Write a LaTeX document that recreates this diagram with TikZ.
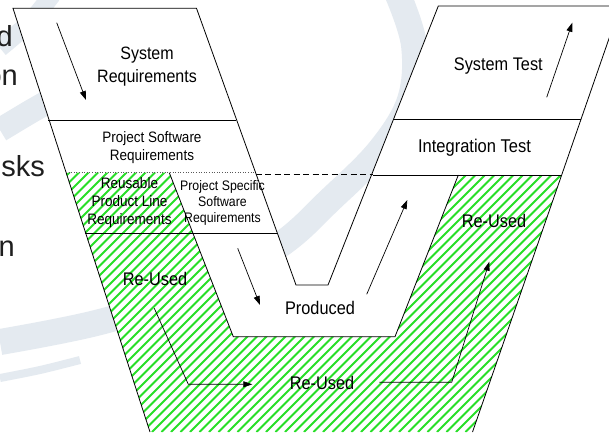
\documentclass[tikz,border=0pt]{standalone}
\usepackage{fontspec}
\setmainfont{Liberation Sans}
\usetikzlibrary{arrows.meta}
\definecolor{swoosh}{RGB}{228,234,240}
\definecolor{hatchgreen}{RGB}{40,222,40}
\definecolor{fragtext}{RGB}{30,30,30}
% labels are set in a slightly tall, narrow cut
\newcommand{\tallstack}[1]{\scalebox{1}[1.12]{\begin{tabular}{@{}c@{}}#1\end{tabular}}}

\begin{document}
\begin{tikzpicture}[x=1pt,y=-1pt,
  edge/.style={line width=0.8pt,black},
  flow/.style={line width=0.7pt,black,-{Triangle[length=9pt,width=6pt]}},
  band/.style={swoosh,line cap=butt},
  lblbig/.style={font=\fontsize{16.3}{20.5}\selectfont,inner sep=0pt},
  lblmid/.style={font=\fontsize{13.5}{16.3}\selectfont,inner sep=0pt},
  lblsmall/.style={font=\fontsize{12.3}{14.5}\selectfont,inner sep=0pt},
  frag/.style={font=\fontsize{29}{32}\selectfont,text=fragtext,inner sep=0pt,anchor=base east}]

\useasboundingbox (0,0) rectangle (609,432);
\clip (0,0) rectangle (609,432);
\fill[white] (0,0) rectangle (609,432);

% watermark swooshes in the background
\draw[band,line width=26pt] plot[smooth,tension=0.6] coordinates
  {(398,-5) (414,45) (410,100) (380,150) (330,200) (280,245) (200,290) (100,322) (0,342)};
\draw[band,line width=18pt] plot[smooth] coordinates {(52,-5) (30,22) (0,48)};
\draw[band,line width=24pt] plot[smooth] coordinates {(0,130) (30,112) (60,95)};
\draw[band,line width=8pt] plot[smooth] coordinates {(0,378) (40,370) (80,360)};

% left-hand slide text running under the diagram
\node[frag] (fd) at (13,46.5) {d};
\node[frag] (fon) at (18,85) {on};
\node[frag] (fsks) at (45,176.5) {sks};
\node[frag] (fun) at (15,256.5) {un};

% the V body
\fill[white] (13,8.3) -- (196.5,8.3) -- (296,285) -- (328,285) -- (438.3,6)
  -- (620.3,6) -- (472.5,432) -- (150,432) -- cycle;

% reused (hatched) area
\begin{scope}
  \clip (66,172.7) -- (169.3,172.7) -- (233.3,336.7) -- (395,336.7) -- (458.3,175)
    -- (561.7,175) -- (472.5,432) -- (150,432) -- cycle;
  \foreach \i in {-23,...,52}
    \draw[hatchgreen,line width=1.9pt] (\i*9.5,432) -- ++(460,-460);
\end{scope}

% outline of the V
\draw[edge] (150,432) -- (13,8.3) -- (196.5,8.3) -- (296,285) -- (328,285)
  -- (438.3,6) -- (620.3,6) -- (472.5,432);

% band separators
\draw[edge] (48.3,120) -- (236,120);
\draw[line width=0.6pt,dotted,gray!70!black] (66,172.7) -- (255.7,172.7);
\draw[line width=0.8pt,dash pattern=on 6pt off 3.5pt] (255.7,174) -- (372.7,174);
\draw[edge] (372.7,175) -- (561.7,175);
\draw[edge] (393.3,119.3) -- (581,119.3);
\draw[edge] (85,233) -- (277,233);
\draw[edge] (169.3,172.7) -- (233.3,336.7) -- (395,336.7) -- (458.3,175);

% labels
\node[lblbig,font=\fontsize{16}{20.5}\selectfont] (sysreq) at (147,66) {\tallstack{System\\Requirements}};
\node[lblmid] (psr) at (152,148) {\tallstack{Project Software\\Requirements}};
\node[lblmid,font=\fontsize{13.5}{15.9}\selectfont] (rplr) at (129.5,202.7) {\tallstack{Reusable\\Product Line\\Requirements}};
\node[lblsmall] (pssr) at (222.5,203) {\tallstack{Project Specific\\Software\\Requirements}};
\node[lblbig] (reusedL) at (155,281) {\tallstack{Re-Used}};
\node[lblbig] (produced) at (320,310.2) {\tallstack{Produced}};
\node[lblbig] (reusedB) at (322,384.8) {\tallstack{Re-Used}};
\node[lblbig] (reusedR) at (494,222.5) {\tallstack{Re-Used}};
\node[lblbig] (systest) at (498.3,66) {\tallstack{System Test}};
\node[lblbig,font=\fontsize{16.5}{20.5}\selectfont] (integ) at (474.5,147.5) {\tallstack{Integration Test}};

% flow arrows
\coordinate (downA) at (56.7,22.7);   \coordinate (downB) at (86,100);
\coordinate (prodA) at (237.7,248.3); \coordinate (prodB) at (260,305);
\coordinate (prodC) at (366.7,294.3); \coordinate (prodD) at (407.3,200);
\coordinate (upA) at (546.7,97.3);    \coordinate (upB) at (572.3,22.7);
\coordinate (reuA) at (154.3,308.3);  \coordinate (reuB) at (188.3,384.3);
\coordinate (reuC) at (252.3,384.3);
\coordinate (reuD) at (379.3,382.3);  \coordinate (reuE) at (451.7,382.3);
\coordinate (reuF) at (489.3,261.7);

\draw[flow] (downA) -- (downB);
\draw[flow] (prodA) -- (prodB);
\draw[flow] (prodC) -- (prodD);
\draw[flow] (upA) -- (upB);
\draw[flow] (reuA) -- (reuB) -- (reuC);
\draw[flow] (reuD) -- (reuE) -- (reuF);
\end{tikzpicture}
\end{document}
